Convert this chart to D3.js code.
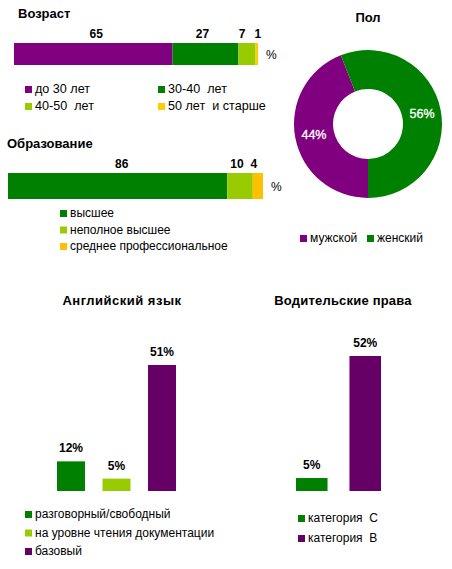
<!DOCTYPE html>
<html lang="ru">
<head>
<meta charset="UTF-8">
<title>Профиль</title>
<script src="https://cdnjs.cloudflare.com/ajax/libs/d3/7.8.5/d3.min.js"></script>
<style>
	body { margin: 0; background: #fff; }
	svg { font-family: "Liberation Sans", Arial, sans-serif; }
	svg text { white-space: pre; }
	.title { font-weight: bold; font-size: 13px; fill: #000; }
	.val { font-weight: bold; font-size: 12px; fill: #000; }
	.leg { font-size: 12px; fill: #000; }
</style>
</head>
<body>
<svg id="grafico" width="452" height="569"></svg>
<script>
// данные
var ageCats = ["до 30 лет", "30-40  лет", "40-50  лет", "50 лет  и старше"];
var ageVals = [65, 27, 7, 1];
var ageColors = ["#800080", "#008000", "#99cc00", "#ffcc00"];

var eduCats = ["высшее", "неполное высшее", "среднее профессиональное"];
var eduVals = [86, 10, 4];
var eduColors = ["#008000", "#99cc00", "#ffc000"];

var sexCats = ["мужской", "женский"];
var sexVals = [44, 56];
var sexColors = ["#800080", "#008000"];

var engCats = ["разговорный/свободный", "на уровне чтения документации", "базовый"];
var engVals = [12, 5, 51];
var engColors = ["#008000", "#99cc00", "#660066"];

var drvCats = ["категория  С", "категория  В"];
var drvVals = [5, 52];
var drvColors = ["#008000", "#660066"];

var svg = d3.select("#grafico");

// горизонтальная полоса со сложением
function stackBar(cfg) {
	var x = d3.scaleLinear().domain([0, d3.sum(cfg.vals)]).range(cfg.xr);
	var starts = [0].concat(Array.from(d3.cumsum(cfg.vals)));
	var g = svg.append("g");
	g.append("text").attr("class", "title").attr("x", cfg.tx).attr("y", cfg.ty).text(cfg.title);
	g.selectAll("rect").data(cfg.vals).join("rect")
		.attr("x", function(d, i){ return x(starts[i]); })
		.attr("y", cfg.y)
		.attr("width", function(d){ return x(d) - x(0); })
		.attr("height", cfg.h)
		.attr("fill", function(d, i){ return cfg.colors[i]; });
	g.selectAll("text.val").data(cfg.vals).join("text")
		.attr("class", "val")
		.attr("text-anchor", "middle")
		.attr("x", function(d, i){ return x(starts[i] + d / 2) + (cfg.dx[i] || 0); })
		.attr("y", cfg.y - 5)
		.text(function(d){ return d; });
	g.append("text").attr("class", "leg").attr("x", cfg.xr[1] + 8).attr("y", cfg.y + cfg.h / 2 + 5).text("%");
	var lg = g.selectAll("g.li").data(cfg.cats).join("g")
		.attr("transform", function(d, i){ return "translate(" + cfg.legPos(i).join(",") + ")"; });
	lg.append("rect").attr("width", 7).attr("height", 7).attr("y", -7)
		.attr("fill", function(d, i){ return cfg.colors[i]; });
	lg.append("text").attr("class", "leg").attr("x", 10).attr("y", 0)
		.style("font-size", cfg.legSize)
		.text(function(d){ return d; });
}

stackBar({
	title: "Возраст", tx: 18, ty: 18,
	vals: ageVals, cats: ageCats, colors: ageColors,
	xr: [14, 258], y: 43, h: 22, dx: [3, -3, -5, 1], legSize: "12.6px",
	legPos: function(i){ return [25 + (i % 2) * 133, 93 + Math.floor(i / 2) * 17]; }
});

stackBar({
	title: "Образование", tx: 7, ty: 148,
	vals: eduVals, cats: eduCats, colors: eduColors,
	xr: [8, 263], y: 173, h: 26, dx: [4, -3, -4], legSize: "12px",
	legPos: function(i){ return [60, 217 + i * 16.5]; }
});

// кольцевая диаграмма
(function(){
	var cx = 368, cy = 124;
	var g = svg.append("g").attr("transform", "translate(" + cx + "," + cy + ")");
	svg.append("text").attr("class", "title").attr("text-anchor", "middle")
		.attr("x", cx).attr("y", 22).text("Пол");
	var pie = d3.pie().sort(null).startAngle(Math.PI).endAngle(3 * Math.PI);
	var arc = d3.arc().innerRadius(35).outerRadius(74);
	var lab = d3.arc().innerRadius(55).outerRadius(55);
	var arcs = pie(sexVals);
	g.selectAll("path").data(arcs).join("path")
		.attr("d", arc)
		.attr("fill", function(d, i){ return sexColors[i]; });
	g.selectAll("text").data(arcs).join("text")
		.attr("text-anchor", "middle")
		.attr("dy", "0.35em")
		.attr("transform", function(d){ return "translate(" + lab.centroid(d) + ")"; })
		.style("font-size", "12.5px")
		.attr("fill", "#fff")
		.attr("stroke", "#fff").attr("stroke-width", 0.3)
		.text(function(d){ return d.data + "%"; });
	var lg = svg.selectAll("g.pl").data(sexCats).join("g")
		.attr("transform", function(d, i){ return "translate(" + (300 + i * 67) + ",242)"; });
	lg.append("rect").attr("width", 7).attr("height", 7).attr("y", -7)
		.attr("fill", function(d, i){ return sexColors[i]; });
	lg.append("text").attr("class", "leg").attr("x", 10).attr("y", 0).text(function(d){ return d; });
})();

// вертикальные столбцы
function columns(cfg) {
	var g = svg.append("g");
	g.append("text").attr("class", "title").attr("text-anchor", "middle")
		.attr("x", cfg.tx).attr("y", 305)
		.style("letter-spacing", cfg.ls)
		.text(cfg.title);
	var x = d3.scaleBand().domain(cfg.cats).range(cfg.xr).paddingInner(cfg.pad).paddingOuter(0);
	var y = d3.scaleLinear().domain([0, cfg.max]).range([491, cfg.top]);
	g.selectAll("rect").data(cfg.vals).join("rect")
		.attr("x", function(d, i){ return x(cfg.cats[i]); })
		.attr("y", function(d){ return y(d); })
		.attr("width", x.bandwidth())
		.attr("height", function(d){ return y(0) - y(d); })
		.attr("fill", function(d, i){ return cfg.colors[i]; });
	g.selectAll("text.val").data(cfg.vals).join("text")
		.attr("class", "val").attr("text-anchor", "middle")
		.attr("x", function(d, i){ return x(cfg.cats[i]) + x.bandwidth() / 2; })
		.attr("y", function(d){ return y(d) - 9; })
		.text(function(d){ return d + "%"; });
	var lg = g.selectAll("g.li").data(cfg.cats).join("g")
		.attr("transform", function(d, i){ return "translate(" + cfg.lx + "," + (cfg.ly + i * cfg.lstep) + ")"; });
	lg.append("rect").attr("width", 7).attr("height", 7).attr("y", -7)
		.attr("fill", function(d, i){ return cfg.colors[i]; });
	lg.append("text").attr("class", "leg").attr("x", 10).attr("y", 0).text(function(d){ return d; });
}

columns({
	title: "Английский язык", tx: 122, ls: "0.5px",
	cats: engCats, vals: engVals, colors: engColors,
	xr: [57, 176], pad: 0.385, max: 51, top: 365,
	lx: 25, ly: 518, lstep: 18.5
});

columns({
	title: "Водительские права", tx: 343, ls: "0.2px",
	cats: drvCats, vals: drvVals, colors: drvColors,
	xr: [296, 381], pad: 0.41, max: 52, top: 356,
	lx: 298, ly: 522, lstep: 20
});
</script>
</body>
</html>
